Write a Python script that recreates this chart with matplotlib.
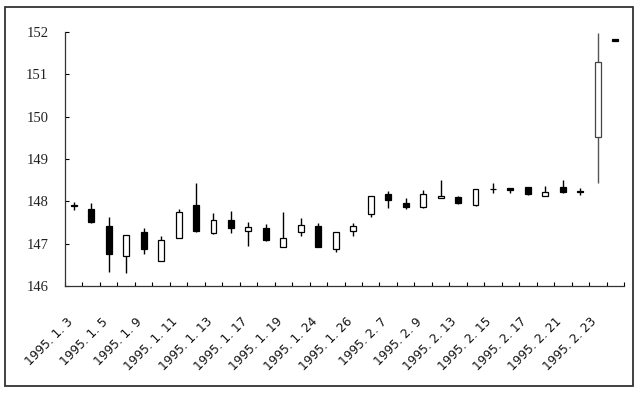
import numpy as np
import matplotlib
matplotlib.use('Agg')
import matplotlib.pyplot as plt
from matplotlib.patches import Rectangle

# OHLC data (32 trading days, Jan 3 - Feb 24, 1995)
opens = [147.92, 147.81, 147.42, 146.71, 147.27, 146.60, 147.13, 147.91,
         147.25, 147.56, 147.31, 147.36, 146.93, 147.28, 147.42, 146.87,
         147.31, 147.70, 148.17, 147.97, 147.86, 148.07, 148.11, 147.91,
         148.30, 148.31, 148.33, 148.13, 148.35, 148.24, 149.53, 151.83]
closes = [147.88, 147.51, 146.75, 147.21, 146.88, 147.09, 147.74, 147.30,
          147.56, 147.36, 147.40, 147.09, 147.14, 147.43, 146.93, 147.27,
          147.42, 148.13, 148.02, 147.86, 148.17, 148.13, 147.96, 148.29,
          148.28, 148.26, 148.18, 148.23, 148.22, 148.22, 151.30, 151.79]
highs = [147.98, 147.97, 147.64, 147.21, 147.36, 147.18, 147.81, 148.44,
         147.72, 147.77, 147.52, 147.47, 147.74, 147.60, 147.48, 147.27,
         147.50, 148.13, 148.25, 148.09, 148.27, 148.51, 148.13, 148.29,
         148.44, 148.31, 148.34, 148.36, 148.51, 148.31, 151.97, 151.83]
lows = [147.80, 147.48, 146.34, 146.31, 146.75, 146.60, 147.13, 147.28,
        147.22, 147.25, 146.95, 147.06, 146.91, 147.19, 146.91, 146.81,
        147.17, 147.62, 147.84, 147.81, 147.84, 148.07, 147.94, 147.89,
        148.19, 148.19, 148.16, 148.13, 148.19, 148.15, 148.43, 151.79]

tick_labels = ['1995. 1. 3', '1995. 1. 5', '1995. 1. 9', '1995. 1. 11',
               '1995. 1. 13', '1995. 1. 17', '1995. 1. 19', '1995. 1. 24',
               '1995. 1. 26', '1995. 2. 7', '1995. 2. 9', '1995. 2. 13',
               '1995. 2. 15', '1995. 2. 17', '1995. 2. 21', '1995. 2. 23']
y_ticks = [146, 147, 148, 149, 150, 151, 152]

fig = plt.figure(figsize=(6.4, 3.93), dpi=100)
ax = fig.add_axes([65/640, (393-286)/393, (624-65)/640, (286-32)/393])

n = len(opens)
x = np.arange(n)
o = np.array(opens); c = np.array(closes)
h = np.array(highs); l = np.array(lows)

wick_colors = ['black'] * n
wick_colors[30] = '#555555'
ax.vlines(x, l, h, colors=wick_colors, linewidth=1.0, zorder=1)

bottoms = np.minimum(o, c)
heights = np.maximum(np.abs(c - o), 0.02)
face = ['black' if cc < oo else 'white' for oo, cc in zip(o, c)]
edge = ['black'] * n
edge[30] = '#444444'
ax.bar(x, heights, bottom=bottoms, width=0.34, color=face,
       edgecolor=edge, linewidth=0.9, zorder=2)

ax.set_xlim(-0.5, n - 0.5)
ax.set_ylim(146, 152)
ax.set_yticks(y_ticks)
ax.set_yticklabels([str(v) for v in y_ticks], family='Liberation Serif',
                   fontsize=10.5, color='#222222')
ax.set_xticks(np.arange(-0.5, n, 1.0))
ax.set_xticklabels([])
ax.tick_params(axis='x', direction='in', length=3, width=0.8)
ax.tick_params(axis='y', direction='in', length=3, width=0.8, pad=12)

for s in ['top', 'right']:
    ax.spines[s].set_visible(False)
for s in ['left', 'bottom']:
    ax.spines[s].set_linewidth(0.9)
    ax.spines[s].set_color('#333333')

for k, lab in enumerate(tick_labels):
    ax.annotate(lab, xy=(2 * k, 0), xycoords=('data', 'axes fraction'),
                xytext=(-5.5, -21), textcoords='offset points',
                rotation=45, ha='right', va='top', rotation_mode='anchor',
                fontsize=8.7, color='#111111')

fig.add_artist(Rectangle((5/640, (393-386)/393), (633-5)/640, (386-7)/393,
                         transform=fig.transFigure, fill=False,
                         linewidth=1.3, edgecolor='#333333'))

fig.savefig('out.png', dpi=100)
